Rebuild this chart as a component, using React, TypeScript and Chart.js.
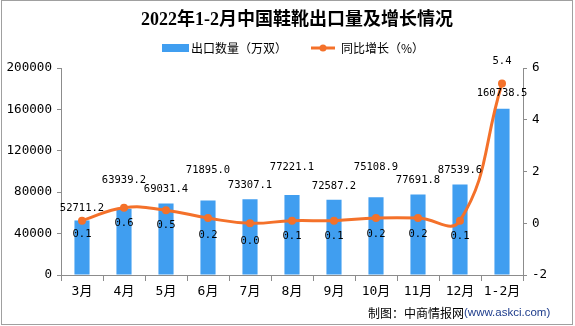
import React, { useEffect, useRef } from "react";
import { Chart, registerables } from "chart.js";

Chart.register(...registerables);

const categories = ["3月", "4月", "5月", "6月", "7月", "8月", "9月", "10月", "11月", "12月", "1-2月"];
const exportVolume = [52711.2, 63939.2, 69031.4, 71895.0, 73307.1, 77221.1, 72587.2, 75108.9, 77691.8, 87539.6, 160738.5];
const growthRate = [0.1, 0.6, 0.5, 0.2, 0.0, 0.1, 0.1, 0.2, 0.2, 0.1, 5.4];
const volumeLabels = ["52711.2", "63939.2", "69031.4", "71895.0", "73307.1", "77221.1", "72587.2", "75108.9", "77691.8", "87539.6", "160738.5"];
const growthLabels = ["0.1", "0.6", "0.5", "0.2", "0.0", "0.1", "0.1", "0.2", "0.2", "0.1", "5.4"];

const TITLE = "2022年1-2月中国鞋靴出口量及增长情况";
const LEGEND_BAR = "出口数量（万双）";
const LEGEND_LINE = "同比增长（%）";
const FOOTER_CN = "制图：中商情报网";
const FOOTER_URL = "(www.askci.com)";

const BAR_COLOR = "#409ef0";
const LINE_COLOR = "#f4712a";
const AXIS_COLOR = "#8c8c8c";
const CJK = "'Noto Sans CJK SC'";
const NUM_FONT = "'DejaVu Sans Mono', 'Noto Sans CJK SC'";

// label placement style (pixel offsets above bar tops / from points)
const barLabelLift = [12, 29, 14, 30, 14, 28, 14, 30, 14, 14, 15];
const lineLabelShift = [14, 16, 15, 17, 18, 16, 16, 16, 16, 16, -22];

const decorPlugin = {
  id: "decor",
  afterDatasetsDraw(chart: any) {
    const ctx = chart.ctx;
    ctx.save();
    ctx.fillStyle = "#000";
    ctx.textAlign = "center";
    ctx.textBaseline = "middle";
    ctx.font = `10.5px ${NUM_FONT}`;
    const barMeta = chart.getDatasetMeta(0);
    barMeta.data.forEach((el: any, i: number) => {
      ctx.fillText(volumeLabels[i], el.x, el.y - barLabelLift[i]);
    });
    const lineMeta = chart.getDatasetMeta(1);
    lineMeta.data.forEach((el: any, i: number) => {
      ctx.fillText(growthLabels[i], el.x, el.y + lineLabelShift[i]);
    });
    ctx.restore();
  },
  afterDraw(chart: any) {
    const ctx = chart.ctx;
    ctx.save();
    // title
    ctx.fillStyle = "#000";
    ctx.textAlign = "center";
    ctx.textBaseline = "middle";
    ctx.font = `bold 18px 'Liberation Serif', ${CJK}`;
    ctx.fillText(TITLE, 297, 20);
    // legend
    ctx.textAlign = "left";
    ctx.font = `12px ${CJK}`;
    ctx.fillStyle = BAR_COLOR;
    ctx.fillRect(162, 44, 27, 8);
    ctx.fillStyle = "#000";
    ctx.fillText(LEGEND_BAR, 191, 48);
    ctx.strokeStyle = LINE_COLOR;
    ctx.lineWidth = 3;
    ctx.beginPath();
    ctx.moveTo(311, 48);
    ctx.lineTo(335, 48);
    ctx.stroke();
    ctx.fillStyle = LINE_COLOR;
    ctx.beginPath();
    ctx.arc(323, 48, 3.5, 0, Math.PI * 2);
    ctx.fill();
    ctx.fillStyle = "#000";
    ctx.fillText(LEGEND_LINE, 341, 48);
    // footer
    ctx.font = `12px ${CJK}`;
    ctx.fillText(FOOTER_CN, 368, 313);
    const w = ctx.measureText(FOOTER_CN).width;
    ctx.font = `11.5px 'Liberation Sans'`;
    ctx.fillStyle = "#1d3c8c";
    ctx.fillText(FOOTER_URL, 368 + w, 313);
    // frame
    ctx.strokeStyle = "#a0a0a0";
    ctx.lineWidth = 1;
    ctx.strokeRect(1.5, 0.5, 571, 324);
    ctx.restore();
  },
};

export default function App() {
  const ref = useRef<HTMLCanvasElement>(null);
  useEffect(() => {
    document.body.style.margin = "0";
    const canvas = ref.current!;
    const chart = new Chart(canvas, {
      type: "bar",
      data: {
        labels: categories,
        datasets: [
          {
            type: "bar",
            label: LEGEND_BAR,
            data: exportVolume,
            backgroundColor: BAR_COLOR,
            yAxisID: "y",
            order: 2,
            barPercentage: 0.36,
            categoryPercentage: 1,
          },
          {
            type: "line",
            label: LEGEND_LINE,
            data: growthRate,
            borderColor: LINE_COLOR,
            backgroundColor: LINE_COLOR,
            borderWidth: 3,
            pointRadius: 4,
            pointBackgroundColor: LINE_COLOR,
            pointBorderWidth: 0,
            tension: 0.45,
            yAxisID: "y1",
            order: 1,
          } as any,
        ],
      },
      options: {
        responsive: false,
        animation: false,
        events: [],
        layout: { padding: { top: 68, left: 0, right: 0, bottom: 0 } },
        plugins: {
          legend: { display: false },
          title: { display: false },
          tooltip: { enabled: false },
        },
        scales: {
          x: {
            offset: true,
            grid: {
              display: true,
              drawOnChartArea: false,
              drawTicks: true,
              tickLength: 6,
              color: AXIS_COLOR,
              offset: true,
            },
            border: { color: AXIS_COLOR },
            ticks: {
              color: "#000",
              font: { family: NUM_FONT, size: 13 },
              padding: 3,
              maxRotation: 0,
              autoSkip: false,
            },
            afterFit: (s: any) => {
              s.height = 51;
            },
          },
          y: {
            position: "left",
            min: 0,
            max: 200000,
            grid: {
              display: true,
              drawOnChartArea: false,
              drawTicks: true,
              tickLength: 4,
              color: AXIS_COLOR,
            },
            border: { color: AXIS_COLOR },
            ticks: {
              stepSize: 40000,
              color: "#000",
              font: { family: NUM_FONT, size: 12.6 },
              padding: 5,
              callback: (v: any) => String(v),
            },
            afterFit: (s: any) => {
              s.width = 61;
            },
          },
          y1: {
            position: "right",
            min: -2,
            max: 6,
            grid: {
              display: true,
              drawOnChartArea: false,
              drawTicks: true,
              tickLength: 4,
              color: AXIS_COLOR,
            },
            border: { color: AXIS_COLOR },
            ticks: {
              stepSize: 2,
              color: "#000",
              font: { family: NUM_FONT, size: 12.6 },
              padding: 5,
              callback: (v: any) => String(v),
            },
            afterFit: (s: any) => {
              s.width = 52;
            },
          },
        },
      },
      plugins: [decorPlugin],
    });
    return () => chart.destroy();
  }, []);
  return <canvas ref={ref} width={575} height={326} style={{ display: "block" }} />;
}
